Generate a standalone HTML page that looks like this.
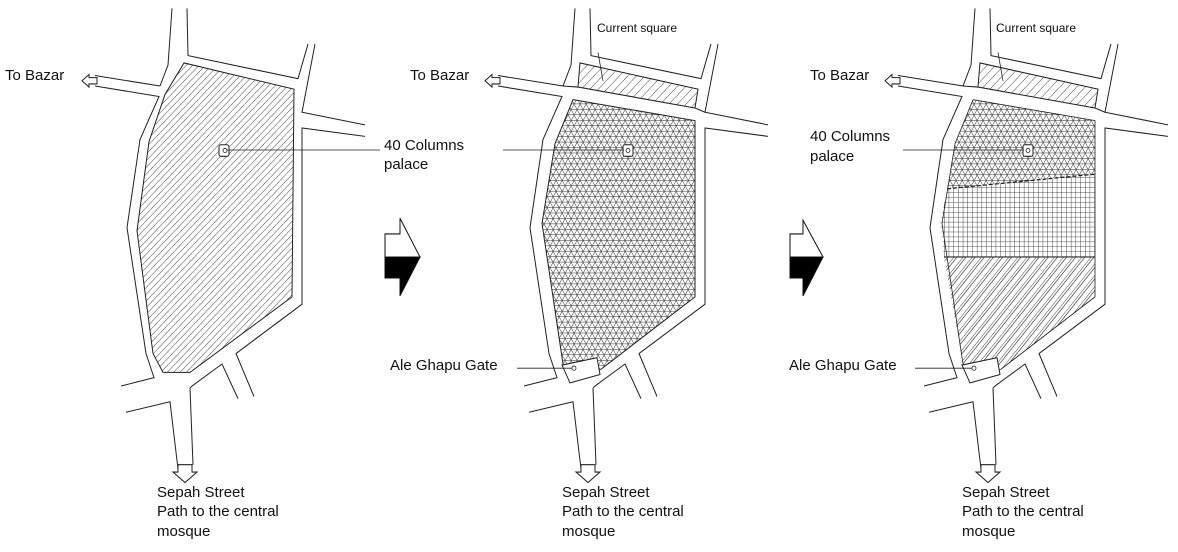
<!DOCTYPE html>
<html><head><meta charset="utf-8"><style>
html,body{margin:0;padding:0;background:#fff}
svg{display:block}
text{font-family:"Liberation Sans",Arial,sans-serif;fill:#111}
</style></head><body>
<svg width="1178" height="552" viewBox="0 0 1178 552" xmlns="http://www.w3.org/2000/svg">
<defs>
<pattern id="h1" patternUnits="userSpaceOnUse" width="4.5" height="10" patternTransform="rotate(45)"><line x1="0" y1="0" x2="0" y2="10" stroke="#222" stroke-width="0.8"/></pattern>
<pattern id="hq" patternUnits="userSpaceOnUse" width="6" height="10" patternTransform="rotate(45)"><line x1="0" y1="0" x2="0" y2="10" stroke="#222" stroke-width="0.8"/></pattern>
<pattern id="hb" patternUnits="userSpaceOnUse" width="7" height="10" patternTransform="rotate(40)"><line x1="0" y1="0" x2="0" y2="10" stroke="#222" stroke-width="0.8"/><line x1="2.5" y1="0" x2="2.5" y2="10" stroke="#222" stroke-width="0.6"/></pattern>
<pattern id="t0" patternUnits="userSpaceOnUse" width="10" height="5.2"><line x1="0" y1="0" x2="10" y2="0" stroke="#222" stroke-width="0.9"/></pattern>
<pattern id="t1" patternUnits="userSpaceOnUse" width="10" height="5.2" patternTransform="rotate(60)"><line x1="0" y1="0" x2="10" y2="0" stroke="#222" stroke-width="0.9"/></pattern>
<pattern id="t2" patternUnits="userSpaceOnUse" width="10" height="5.2" patternTransform="rotate(-60)"><line x1="0" y1="0" x2="10" y2="0" stroke="#222" stroke-width="0.9"/></pattern>
<pattern id="gr" patternUnits="userSpaceOnUse" width="4.7" height="4.7"><path d="M0 0H4.7M0 0V4.7" stroke="#222" stroke-width="0.8" fill="none"/></pattern>

<g id="roads" fill="none" stroke="#222" stroke-width="1">
<polyline points="172,8 168,62 160,82"/>
<polyline points="95,72 160,82"/>
<polyline points="95,82 159,92 140,133 127,217 146,337 154,360 121,368"/>
<polyline points="126,393 170,383 178,447"/>
<polyline points="190,370 193,443"/>
<polyline points="187,8 188,53 298,75 308,42"/>
<polyline points="315,42 302,107 365,119"/>
<polyline points="365,130 302,122 302,290 236,337 254,378"/>
<polyline points="238,380 222,347 192,368 190,370"/>
<polygon points="82,77 89,71 89,74 97,74 97,80 89,80 89,83" fill="#fff"/>
<polygon points="178,443 192,443 192,450 197,450 185,460 173,450 178,450" fill="#fff"/>
</g>
</defs>

<g transform="scale(1,1.049)">
<g>
<use href="#roads"/>
<polygon points="184,60 294,85 292,283 190,355 163,355 153,337 137,220 149,135 165,90" fill="url(#h1)" stroke="#222" stroke-width="1"/>
<rect x="219" y="138" width="10" height="11" rx="2" fill="#fff" stroke="#222"/>
<circle cx="225" cy="143.5" r="2" fill="none" stroke="#222" stroke-width="0.8"/>
<line x1="227" y1="143" x2="380" y2="143" stroke="#222" stroke-width="0.8"/>
</g>
<g transform="translate(403,0)">
<use href="#roads"/>
<polygon points="177,60 295,85 292,103 175,83" fill="url(#hq)" stroke="#222"/>
<line x1="160" y1="82" x2="175" y2="83" stroke="#222"/>
<line x1="292" y1="103" x2="302" y2="107" stroke="#222"/>
<g>
<polygon points="170,95 292,115 292,283 198,352 163,356 160,347 139,213 152,137" fill="url(#t0)" stroke="#222"/>
<polygon points="170,95 292,115 292,283 198,352 163,356 160,347 139,213 152,137" fill="url(#t1)"/>
<polygon points="170,95 292,115 292,283 198,352 163,356 160,347 139,213 152,137" fill="url(#t2)"/>
</g>
<polygon points="159,348 194,341 197,357 167,365" fill="#fff" stroke="#222"/>
<circle cx="171" cy="351" r="2" fill="none" stroke="#222" stroke-width="0.8"/>
<rect x="220" y="138" width="10" height="11" rx="2" fill="#fff" stroke="#222"/>
<circle cx="225" cy="143.5" r="2" fill="none" stroke="#222" stroke-width="0.8"/>
<line x1="195" y1="50" x2="200" y2="77" stroke="#222" stroke-width="0.8"/>
</g>
<g transform="translate(803,0)">
<use href="#roads"/>
<polygon points="177,60 295,85 292,103 175,83" fill="url(#hq)" stroke="#222"/>
<line x1="160" y1="82" x2="175" y2="83" stroke="#222"/>
<line x1="292" y1="103" x2="302" y2="107" stroke="#222"/>
<polygon points="170,95 292,115 292,166 144,180 152,137" fill="url(#t0)"/>
<polygon points="170,95 292,115 292,166 144,180 152,137" fill="url(#t1)"/>
<polygon points="170,95 292,115 292,166 144,180 152,137" fill="url(#t2)"/>
<polygon points="144,180 292,166 292,245 141,245 137,213" fill="url(#gr)"/>
<polygon points="141,245 292,245 292,283 198,352 163,356 160,347" fill="url(#hb)"/>
<line x1="144" y1="180" x2="292" y2="166" stroke="#222" stroke-width="1.2" stroke-dasharray="4,2"/>
<line x1="141" y1="245" x2="292" y2="245" stroke="#222"/>
<polyline points="170,95 292,115 292,283 198,352 163,356 160,347 139,213 152,137 170,95" fill="none" stroke="#222" stroke-width="0.8"/>
<polygon points="159,348 194,341 197,357 167,365" fill="#fff" stroke="#222"/>
<circle cx="171" cy="351" r="2" fill="none" stroke="#222" stroke-width="0.8"/>
<rect x="220" y="138" width="10" height="11" rx="2" fill="#fff" stroke="#222"/>
<circle cx="225" cy="143.5" r="2" fill="none" stroke="#222" stroke-width="0.8"/>
<line x1="195" y1="50" x2="200" y2="77" stroke="#222" stroke-width="0.8"/>
</g>
<g stroke="#222" stroke-width="0.8">
<line x1="503" y1="143" x2="624" y2="143"/>
<line x1="903" y1="143" x2="1024" y2="143"/>
<line x1="517" y1="351" x2="572" y2="351"/>
<line x1="915" y1="351" x2="972" y2="351"/>
</g>
<g stroke="#111" stroke-width="1">
<polygon points="400,208 420,245 385,245 385,223 400,223" fill="#fff"/>
<polygon points="385,245 420,245 400,282 400,265 385,265" fill="#000"/>
<polygon points="803,210 823,245 790,245 790,223 803,223" fill="#fff"/>
<polygon points="790,245 823,245 803,282 803,265 790,265" fill="#000"/>
</g>
</g>

<g font-size="15">
<text x="5" y="80">To Bazar</text>
<text x="410" y="80">To Bazar</text>
<text x="810" y="80">To Bazar</text>
<text x="384" y="150">40 Columns</text>
<text x="384" y="169">palace</text>
<text x="810" y="141">40 Columns</text>
<text x="810" y="161">palace</text>
<text x="390" y="370">Ale Ghapu Gate</text>
<text x="789" y="370">Ale Ghapu Gate</text>
<text x="157" y="497">Sepah Street</text>
<text x="157" y="516">Path to the central</text>
<text x="157" y="536">mosque</text>
<text x="562" y="497">Sepah Street</text>
<text x="562" y="516">Path to the central</text>
<text x="562" y="536">mosque</text>
<text x="962" y="497">Sepah Street</text>
<text x="962" y="516">Path to the central</text>
<text x="962" y="536">mosque</text>
</g>
<g font-size="12">
<text x="597" y="32">Current square</text>
<text x="996" y="32">Current square</text>
</g>
</svg>
</body></html>
